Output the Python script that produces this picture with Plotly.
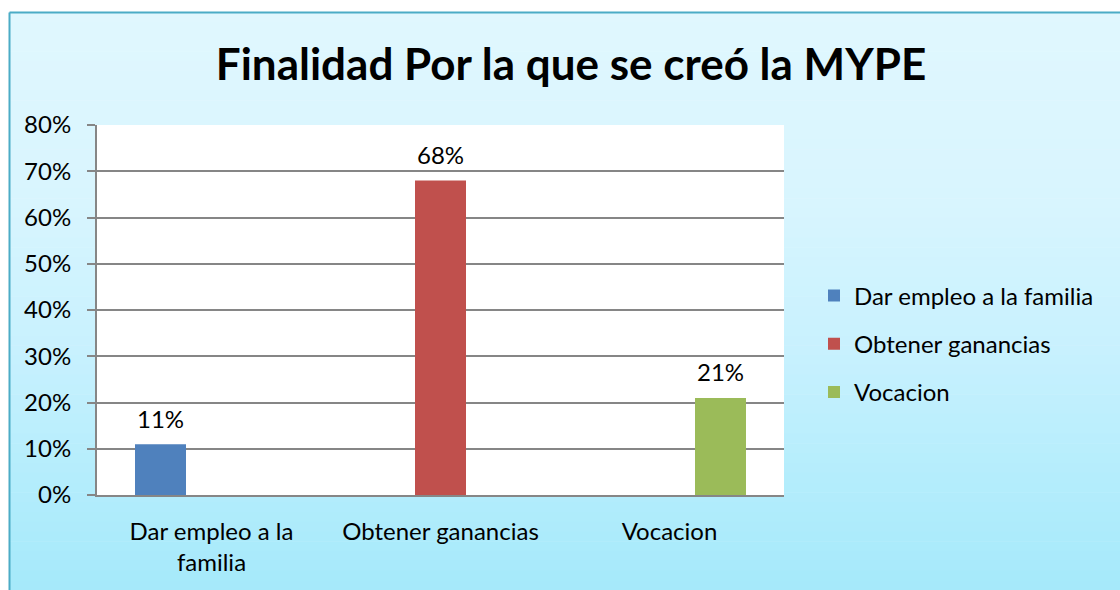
import plotly.graph_objects as go

categories = ["Dar empleo a la<br>familia", "Obtener ganancias", "Vocacion"]
series_names = ["Dar empleo a la familia", "Obtener ganancias", "Vocacion"]
values = [0.11, 0.68, 0.21]
colors = ["#4f81bd", "#c0504d", "#9bbb59"]
title_text = "Finalidad Por la que se creó la MYPE"

OFF = 0
W, H = 1120, 590
L, R, T, B = 97, 784, 125, 495
FONT = "Lato"
FS = 24

def px2x(px):
    return (px - OFF - L) / (R - L)

def py2y(py):
    return (B - (py - OFF)) / (B - T)

fig = go.Figure()
n_cat = len(categories)
cat_w = (R - L) / n_cat
bar_w = cat_w * (1 - 0.332) / len(series_names)
annotations = []
for i, name in enumerate(series_names):
    yv = [values[i] if j == i else None for j in range(n_cat)]
    fig.add_trace(go.Bar(
        x=categories, y=yv, name=name, legendgroup=name,
        marker=dict(color=colors[i], line=dict(width=0)),
    ))
    annotations.append(dict(
        x=categories[i], y=values[i], xref="x", yref="y",
        text="%d%%" % round(values[i] * 100), showarrow=False,
        xshift=(i - (len(series_names) - 1) / 2) * bar_w, yshift=26,
        yanchor="middle", font=dict(family=FONT, size=FS, color="black")))

# background gradient strips
stops = [(12, (224, 247, 254)), (200, (216, 245, 254)), (350, (200, 241, 254)),
         (480, (180, 237, 252)), (600, (164, 233, 250))]
shapes = []
n = 60
for k in range(n):
    y0 = 12 + (600 - 12) * k / n
    y1 = 12 + (600 - 12) * (k + 1) / n
    ym = (y0 + y1) / 2
    for a in range(len(stops) - 1):
        if stops[a][0] <= ym <= stops[a + 1][0]:
            t = (ym - stops[a][0]) / (stops[a + 1][0] - stops[a][0])
            c = tuple(round(stops[a][1][m] + t * (stops[a + 1][1][m] - stops[a][1][m])) for m in range(3))
            break
    shapes.append(dict(type="rect", xref="paper", yref="paper", layer="below",
                       x0=px2x(9), x1=px2x(1130), y0=py2y(y1 + 0.5), y1=py2y(y0),
                       fillcolor="rgb(%d,%d,%d)" % c, line=dict(width=0)))
# frame: top and left edges only (right/bottom are outside the picture)
shapes.append(dict(type="line", xref="paper", yref="paper", layer="below",
                   x0=px2x(9.5), x1=px2x(1130), y0=py2y(12.5), y1=py2y(12.5),
                   line=dict(color="#4bacc6", width=2)))
shapes.append(dict(type="line", xref="paper", yref="paper", layer="below",
                   x0=px2x(9.5), x1=px2x(9.5), y0=py2y(12.5), y1=py2y(600),
                   line=dict(color="#4bacc6", width=2)))
shapes.append(dict(type="rect", xref="paper", yref="paper", layer="below",
                   x0=0, x1=1, y0=0, y1=1, fillcolor="white", line=dict(width=0)))

fig.update_layout(
    width=W, height=H,
    margin=dict(l=L, r=W - R, t=T, b=H - B, pad=0),
    paper_bgcolor="white", plot_bgcolor="rgba(0,0,0,0)",
    barmode="group", bargap=0.332, bargroupgap=0,
    shapes=shapes, annotations=annotations,
    title=dict(text="<b>" + title_text + "</b>", x=(571 - OFF) / W, xanchor="center",
               y=1 - (65 - OFF) / H, yanchor="middle",
               font=dict(family=FONT, size=44, color="black")),
    font=dict(family=FONT, size=FS, color="black"),
    showlegend=True,
    legend=dict(x=px2x(814), xanchor="left", y=py2y(344), yanchor="middle",
                traceorder="grouped", tracegroupgap=14,
                bgcolor="rgba(0,0,0,0)", font=dict(family=FONT, size=FS, color="black"),
                itemwidth=30),
    xaxis=dict(showline=True, linecolor="#868686", linewidth=2, ticks="",
               ticklabelstandoff=14,
               tickfont=dict(family=FONT, size=FS, color="black"), showgrid=False),
    yaxis=dict(range=[0, 0.8], dtick=0.1, tickformat=".0%", showline=True,
               linecolor="#868686", linewidth=2, ticks="outside", ticklen=8,
               tickcolor="#868686", tickwidth=2, gridcolor="#868686", gridwidth=1.5,
               ticklabelstandoff=11,
               zeroline=False, tickfont=dict(family=FONT, size=FS, color="black")),
)

fig.write_html("out.html", config={"displayModeBar": False},
               post_script="document.body.style.margin='0';document.body.style.overflow='hidden';")
